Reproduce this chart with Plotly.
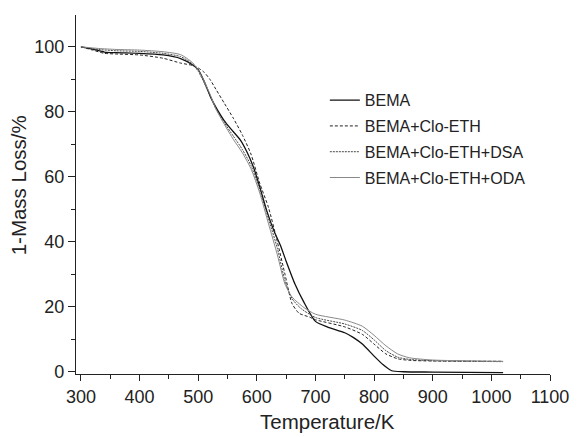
import plotly.graph_objects as go

# Temperature (K) and 1-Mass Loss (%)
t_bema = [300, 320, 340, 360, 400, 440, 470, 490, 500, 510, 521, 533, 544, 555, 572, 583, 594, 605, 617, 630, 640, 650, 665, 680, 700, 720, 750, 765, 780, 800, 815, 830, 850, 900, 1020]
v_bema = [100, 99.3, 98.4, 98.2, 98.0, 97.5, 96.4, 94.5, 93.0, 89.5, 84.6, 80.5, 77.4, 74.9, 71.3, 67.7, 63.1, 56.9, 49.5, 43, 39, 34, 27, 21.5, 15.5, 13.8, 12, 10.5, 8.5, 4.8, 2.2, 0.3, 0, -0.1, -0.3]

t_eth = [300, 320, 340, 360, 400, 440, 470, 490, 500, 510, 520, 530, 545, 560, 575, 590, 605, 620, 635, 648, 660, 672, 690, 700, 750, 780, 800, 820, 840, 860, 900, 1020]
v_eth = [100, 99, 98.0, 97.8, 97.5, 96.5, 95.0, 94.3, 93.5, 92.2, 90.0, 87, 82.5, 78, 73, 67, 58, 50.5, 40, 30, 21, 18, 16.8, 16.0, 13.8, 11.5, 8.5, 5.5, 4.0, 3.5, 3.3, 3.2]

t_dsa = [300, 330, 360, 400, 440, 470, 490, 500, 510, 520, 530, 545, 560, 575, 590, 605, 620, 635, 648, 660, 675, 700, 750, 780, 800, 820, 840, 860, 900, 1020]
v_dsa = [100, 99.2, 98.8, 98.6, 98.0, 97.0, 94.8, 92.5, 89, 85, 81, 76.5, 72.5, 68.5, 63.5, 56, 47, 38, 28, 22.5, 19.5, 16.7, 14.7, 12.7, 9.8, 6.5, 4.5, 3.8, 3.4, 3.1]

t_oda = [300, 330, 360, 400, 440, 470, 490, 500, 510, 520, 530, 545, 560, 575, 590, 605, 620, 635, 648, 660, 680, 700, 750, 780, 800, 820, 840, 860, 900, 1020]
v_oda = [100, 99.5, 99.2, 99.0, 98.5, 97.6, 95.2, 92.8, 89.5, 85.5, 81, 76, 71.5, 67.5, 62.5, 55, 45.5, 36, 27, 23, 19.8, 17.7, 15.9, 14.0, 11.2, 8, 5.5, 4.3, 3.6, 3.2]

names = ["BEMA", "BEMA+Clo-ETH", "BEMA+Clo-ETH+DSA", "BEMA+Clo-ETH+ODA"]
x_ticks = [300, 400, 500, 600, 700, 800, 900, 1000, 1100]
y_ticks = [0, 20, 40, 60, 80, 100]

FONT = "Liberation Sans, Arial, sans-serif"

fig = go.Figure()
fig.add_trace(go.Scatter(x=t_bema, y=v_bema, name=names[0], mode="lines", legendgroup="g0",
                         line=dict(color="#111111", width=1.3, shape="spline", smoothing=0.6)))
fig.add_trace(go.Scatter(x=t_eth, y=v_eth, name=names[1], mode="lines", legendgroup="g1",
                         line=dict(color="#222222", width=1, dash="3px,2px", shape="spline", smoothing=0.6)))
fig.add_trace(go.Scatter(x=t_dsa, y=v_dsa, name=names[2], mode="lines", legendgroup="g2",
                         line=dict(color="#333333", width=0.9, dash="2px,1px", shape="spline", smoothing=0.6)))
fig.add_trace(go.Scatter(x=t_oda, y=v_oda, name=names[3], mode="lines", legendgroup="g3",
                         line=dict(color="#888888", width=1, shape="spline", smoothing=0.6)))

fig.update_layout(
    width=581, height=437,
    margin=dict(l=76, r=23, t=15, b=63),
    paper_bgcolor="white", plot_bgcolor="white",
    font=dict(family=FONT, color="#222222"),
    showlegend=True,
    legend=dict(x=0.525, y=0.81, xanchor="left", yanchor="top",
                font=dict(size=16, color="#222222"), bgcolor="rgba(0,0,0,0)",
                tracegroupgap=2),
)
fig.update_xaxes(
    range=[291.6, 1100], tickvals=x_ticks, ticks="outside", ticklen=6, tickwidth=1.2,
    tickcolor="#222222", showline=True, linecolor="#222222", linewidth=1.3,
    showgrid=False, zeroline=False, tickfont=dict(size=18),
    minor=dict(dtick=50, tick0=300, ticks="outside", ticklen=3.5, tickcolor="#222222", tickwidth=1.2),
)
fig.update_yaxes(
    range=[-0.7, 109.8], tickvals=y_ticks, ticks="outside", ticklen=7, tickwidth=1.2,
    tickcolor="#222222", showline=True, linecolor="#222222", linewidth=1.3,
    showgrid=False, zeroline=False, tickfont=dict(size=18),
    minor=dict(dtick=10, tick0=0, ticks="outside", ticklen=3.5, tickcolor="#222222", tickwidth=1.2),
)

fig.add_annotation(text="Temperature/K", xref="paper", yref="paper", x=0.531, y=-0.131,
                   showarrow=False, font=dict(size=20.5, family=FONT, color="#222222"),
                   xanchor="center", yanchor="middle")
fig.add_annotation(text="1-Mass Loss/%", xref="paper", yref="paper", x=-0.122, y=0.526,
                   showarrow=False, textangle=-90, font=dict(size=20.5, family=FONT, color="#222222"),
                   xanchor="center", yanchor="middle")

fig.write_html("out.html", config={"displayModeBar": False},
               post_script="document.body.style.margin='0px';document.body.style.overflow='hidden';")
